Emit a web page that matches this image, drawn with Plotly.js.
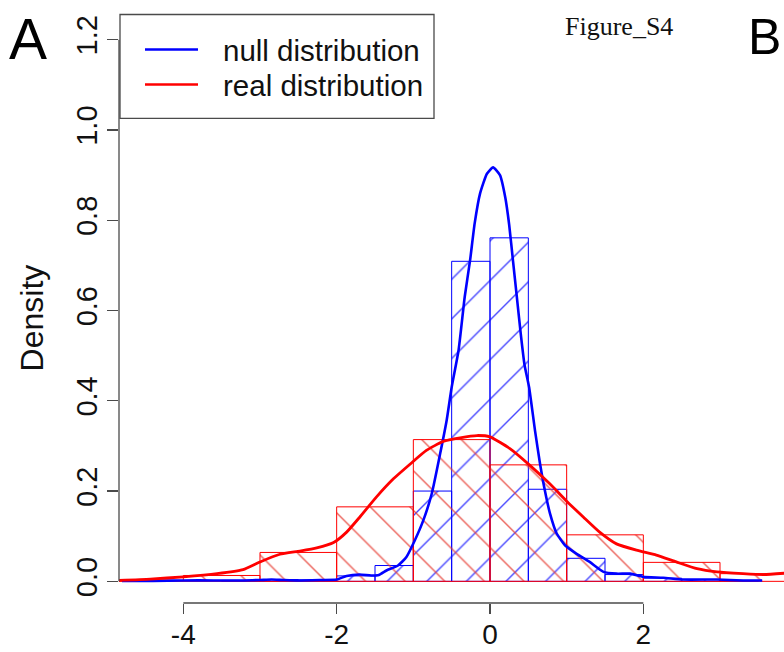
<!DOCTYPE html>
<html><head><meta charset="utf-8">
<script src="https://cdn.plot.ly/plotly-3.0.1.min.js"></script>
<style>html,body{margin:0;padding:0;background:#fff;overflow:hidden}</style>
</head><body><div id="chart" style="width:784px;height:652px"></div>
<script>
// ---- data ----
const nullBinCenters = [-3.25, -2.75, -2.25, -1.75, -1.25, -0.75, -0.25, 0.25, 0.75, 1.25, 1.75, 2.25, 2.75, 3.25];
const nullBinDensity = [0.002, 0.004, 0.003, 0.012, 0.035, 0.200, 0.709, 0.761, 0.204, 0.051, 0.015, 0.007, 0.004, 0.002];
const nullBinWidth = 0.5;

const realBinCenters = [-4.5, -3.5, -2.5, -1.5, -0.5, 0.5, 1.5, 2.5, 3.5, 4.5];
const realBinDensity = [0.002, 0.013, 0.064, 0.165, 0.314, 0.258, 0.103, 0.042, 0.017, 0.010];
const realBinWidth = 1.0;

const nullKdeX = [-4.8, -4.4, -4.0, -3.6, -3.2, -3.0, -2.85, -2.7, -2.5, -2.2, -2.0, -1.87, -1.7, -1.55, -1.45, -1.35, -1.2, -1.09, -0.98, -0.87, -0.76, -0.65, -0.565, -0.5, -0.41, -0.33, -0.26, -0.2, -0.13, -0.04, 0.04, 0.13, 0.2, 0.25, 0.3, 0.35, 0.4, 0.45, 0.51, 0.587, 0.652, 0.717, 0.783, 0.87, 0.978, 1.13, 1.3, 1.48, 1.65, 1.83, 2.0, 2.26, 2.52, 2.96, 3.3, 3.55];
const nullKdeY = [0.001, 0.001, 0.002, 0.002, 0.002, 0.003, 0.004, 0.003, 0.002, 0.003, 0.004, 0.012, 0.015, 0.013, 0.014, 0.024, 0.035, 0.054, 0.091, 0.135, 0.194, 0.283, 0.357, 0.43, 0.512, 0.63, 0.711, 0.793, 0.859, 0.903, 0.917, 0.9, 0.85, 0.79, 0.71, 0.63, 0.55, 0.48, 0.43, 0.334, 0.261, 0.2, 0.15, 0.106, 0.08, 0.061, 0.043, 0.021, 0.017, 0.017, 0.01, 0.008, 0.004, 0.004, 0.002, 0.002];

const realKdeX = [-4.84, -4.43, -4.0, -3.56, -3.22, -3.0, -2.74, -2.48, -2.26, -2.04, -1.87, -1.7, -1.48, -1.26, -1.04, -0.83, -0.61, -0.39, -0.17, 0.0, 0.26, 0.52, 0.78, 1.01, 1.22, 1.43, 1.65, 1.91, 2.17, 2.43, 2.7, 2.96, 3.3, 3.57, 3.84];
const realKdeY = [0.002, 0.005, 0.01, 0.017, 0.026, 0.043, 0.06, 0.067, 0.074, 0.086, 0.109, 0.142, 0.187, 0.227, 0.26, 0.29, 0.31, 0.318, 0.323, 0.32, 0.294, 0.257, 0.216, 0.176, 0.142, 0.109, 0.083, 0.069, 0.058, 0.043, 0.028, 0.021, 0.017, 0.015, 0.018];

const xTickVals = [-4, -2, 0, 2];
const yTickVals = [0, 0.2, 0.4, 0.6, 0.8, 1.0, 1.2];
const yTickText = ['0.0', '0.2', '0.4', '0.6', '0.8', '1.0', '1.2'];
const legendLabels = ['null distribution', 'real distribution'];
const yTitle = 'Density';

// ---- layout helpers (pixel -> paper) ----
const W = 784, H = 652;
const M = {l: 119, r: 0, t: 17.5, b: 49.3};
const PW = W - M.l - M.r, PH = H - M.t - M.b;
const px = v => (v - M.l) / PW;
const py = v => (H - M.b - v) / PH;

const FONT = 'Liberation Sans, Arial, Helvetica, sans-serif';
const BLUE = '#0000ff', RED = '#ff0000';

const traces = [
  {type: 'bar', x: nullBinCenters, y: nullBinDensity, width: nullBinCenters.map(() => nullBinWidth),
   marker: {color: 'rgba(0,0,255,0)', line: {color: BLUE, width: 1},
     pattern: {shape: '/', size: 28, solidity: 0.05, fgcolor: 'rgba(40,40,255,0.85)', bgcolor: 'rgba(0,0,0,0)', fillmode: 'replace'}},
   showlegend: false, hoverinfo: 'skip'},
  {type: 'bar', x: realBinCenters, y: realBinDensity, width: realBinCenters.map(() => realBinWidth),
   marker: {color: 'rgba(255,0,0,0)', line: {color: RED, width: 1},
     pattern: {shape: '\\', size: 28, solidity: 0.05, fgcolor: 'rgba(230,60,50,0.8)', bgcolor: 'rgba(0,0,0,0)', fillmode: 'replace'}},
   showlegend: false, hoverinfo: 'skip'},
  {type: 'scatter', mode: 'lines', x: nullKdeX, y: nullKdeY, name: legendLabels[0],
   line: {color: BLUE, width: 2.6, shape: 'spline', smoothing: 0.5}, showlegend: false, hoverinfo: 'skip'},
  {type: 'scatter', mode: 'lines', x: realKdeX, y: realKdeY, name: legendLabels[1],
   line: {color: RED, width: 2.8, shape: 'spline', smoothing: 0.5}, showlegend: false, hoverinfo: 'skip'}
];

const axisColor = '#4a4a4a';
const layout = {
  width: W, height: H,
  margin: M,
  paper_bgcolor: '#ffffff', plot_bgcolor: '#ffffff',
  barmode: 'overlay',
  font: {family: FONT, color: '#111', size: 28},
  hovermode: false,
  xaxis: {range: [(M.l - 490) / 76.67, (W - 490) / 76.67], tickvals: xTickVals, ticktext: xTickVals.map(String),
    ticks: 'outside', ticklen: 10, tickwidth: 1.3, tickcolor: axisColor, showline: false, showgrid: false, zeroline: false,
    ticklabelstandoff: -4,
    tickfont: {size: 28, family: FONT, color: '#111'}},
  yaxis: {range: [-0.048, 1.248], tickvals: yTickVals, ticktext: yTickText, tickangle: -90,
    ticks: 'outside', ticklen: 11, tickwidth: 1.3, tickcolor: axisColor, showline: false, showgrid: false, zeroline: false,
    ticklabelstandoff: -2,
    tickfont: {size: 29, family: FONT, color: '#111'}},
  shapes: [
    {type: 'line', xref: 'x', yref: 'paper', x0: xTickVals[0], x1: xTickVals[xTickVals.length - 1], y0: 0, y1: 0, line: {color: axisColor, width: 1.3}},
    {type: 'line', xref: 'paper', yref: 'y', x0: 0, x1: 0, y0: yTickVals[0], y1: yTickVals[yTickVals.length - 1], line: {color: axisColor, width: 1.3}},
    {type: 'rect', xref: 'paper', yref: 'paper', x0: px(120), x1: px(434), y0: py(118), y1: py(14), line: {color: axisColor, width: 1.3}, fillcolor: '#ffffff', layer: 'above'},
    {type: 'line', xref: 'paper', yref: 'paper', x0: px(145), x1: px(198), y0: py(49), y1: py(49), line: {color: BLUE, width: 2.4}, layer: 'above'},
    {type: 'line', xref: 'paper', yref: 'paper', x0: px(145), x1: px(198), y0: py(84), y1: py(84), line: {color: RED, width: 2.4}, layer: 'above'}
  ],
  annotations: [
    {xref: 'paper', yref: 'paper', x: px(221), y: py(50), xanchor: 'left', yanchor: 'middle', showarrow: false,
     text: legendLabels[0], font: {size: 29.5, family: FONT, color: '#111'}},
    {xref: 'paper', yref: 'paper', x: px(221), y: py(85), xanchor: 'left', yanchor: 'middle', showarrow: false,
     text: legendLabels[1], font: {size: 29.5, family: FONT, color: '#111'}},
    {xref: 'paper', yref: 'paper', x: px(32), y: py(318), xanchor: 'center', yanchor: 'middle', showarrow: false, textangle: -90,
     text: yTitle, font: {size: 32, family: FONT, color: '#111'}},
    {xref: 'paper', yref: 'paper', x: px(28), y: py(39), xanchor: 'center', yanchor: 'middle', showarrow: false,
     text: 'A', font: {size: 57, family: FONT, color: '#000'}},
    {xref: 'paper', yref: 'paper', x: px(783), y: py(37), xanchor: 'right', yanchor: 'middle', showarrow: false,
     text: 'B', font: {size: 50, family: FONT, color: '#000'}},
    {xref: 'paper', yref: 'paper', x: px(619), y: py(26), xanchor: 'center', yanchor: 'middle', showarrow: false,
     text: 'Figure_S4', font: {size: 26, family: 'Liberation Serif, Times New Roman, serif', color: '#111'}}
  ]
};

Plotly.newPlot('chart', traces, layout, {displayModeBar: false, staticPlot: true});
</script></body></html>
